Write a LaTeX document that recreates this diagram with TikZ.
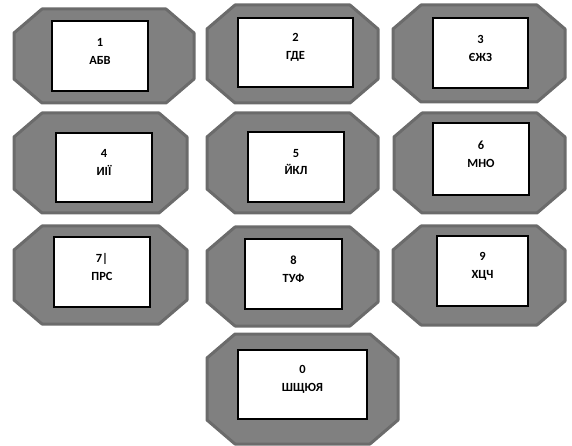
\documentclass[tikz,border=0pt]{standalone}
\usepackage{fontspec}
\setmainfont{Carlito}
\usepackage{xcolor}

\definecolor{keyfill}{HTML}{808080}
\definecolor{keyedge}{HTML}{6B6B6B}

\tikzset{
  keybody/.style={fill=keyfill, draw=keyedge, line width=3bp, line join=round},
  keyface/.style={draw=black, fill=white, line width=1.6bp, inner sep=0pt},
  keytext/.style={font=\bfseries\fontsize{12.5}{18}\selectfont, align=center, inner sep=0pt}
}

% octagon body of one key: left, top, right, bottom
\newcommand{\keyoct}[4]{%
  \draw[keybody] (#1+28,#2) -- (#3-28,#2) -- (#3,#2+24) -- (#3,#4-24)
    -- (#3-28,#4) -- (#1+28,#4) -- (#1,#4-24) -- (#1,#2+24) -- cycle;}

\begin{document}
\begin{tikzpicture}[x=1bp,y=-1bp]
                \useasboundingbox (0,0) rectangle (572,446);

                % first row
                \keyoct{14}{9}{194}{103}
                \keyoct{207}{5}{378}{103}
                \keyoct{393}{5}{565}{102}
                \node[keyface, minimum width=96bp, minimum height=70bp] (k1) at (100,56) {};
                \node[keyface, minimum width=115bp, minimum height=69bp] (k2) at (295.5,52.5) {};
                \node[keyface, minimum width=95bp, minimum height=70bp] (k3) at (480.5,53) {};
                \node[keytext] (t1) at ([yshift=5bp]k1.center) {1\\АБВ};
                \node[keytext] (t2) at ([yshift=5bp]k2.center) {2\\ГДЕ};
                \node[keytext] (t3) at ([yshift=5bp]k3.center) {3\\ЄЖЗ};

                % second row
                \keyoct{14}{113}{187}{213}
                \keyoct{207}{113}{378}{213}
                \keyoct{394}{113}{565}{213}
                \node[keyface, minimum width=96bp, minimum height=69bp] (k4) at (104,167.5) {};
                \node[keyface, minimum width=96bp, minimum height=70bp] (k5) at (296,167) {};
                \node[keyface, minimum width=96bp, minimum height=72bp] (k6) at (481,159) {};
                \node[keytext] (t4) at ([yshift=5bp]k4.center) {4\\ИІЇ};
                \node[keytext] (t5) at ([yshift=5bp]k5.center) {5\\ЙКЛ};
                \node[keytext] (t6) at ([yshift=5bp]k6.center) {6\\МНО};

                % third row
                \keyoct{14}{226}{187}{324}
                \keyoct{207}{227}{378}{326}
                \keyoct{393}{226}{565}{325}
                \node[keyface, minimum width=96bp, minimum height=70bp] (k7) at (102,272) {};
                \node[keyface, minimum width=97bp, minimum height=70bp] (k8) at (293.5,274) {};
                \node[keyface, minimum width=91bp, minimum height=70bp] (k9) at (482.5,271) {};
                \node[keytext] (t7) at ([yshift=5bp]k7.center) {7|\\ПРС};
                \node[keytext] (t8) at ([yshift=5bp]k8.center) {8\\ТУФ};
                \node[keytext] (t9) at ([yshift=5bp]k9.center) {9\\ХЦЧ};

                % last key
                \keyoct{207}{334}{398}{444}
                \node[keyface, minimum width=129bp, minimum height=69bp] (k0) at (302.5,384.5) {};
                \node[keytext] (t0) at ([yshift=5bp]k0.center) {0\\ШЩЮЯ};
\end{tikzpicture}
\end{document}
